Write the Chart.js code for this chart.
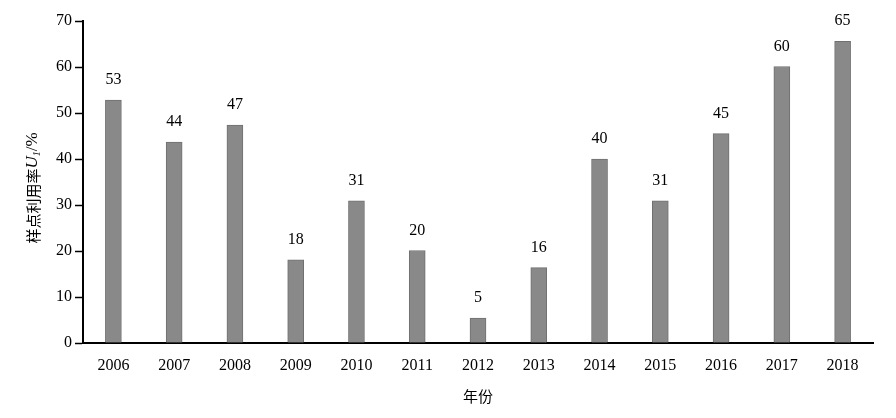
<!DOCTYPE html>
<html lang="zh">
<head>
    <meta charset="UTF-8">
    <title>样点利用率</title>
    <script src="https://cdn.jsdelivr.net/npm/chart.js"></script>
    <style>
        html, body { margin: 0; padding: 0; background: #fff; }
        #wrap { width: 896px; height: 418px; position: relative; }
    </style>
</head>
<body>
    <div id="wrap"><canvas id="rateChart"></canvas></div>
    <script>
        // data
        const years = ['2006', '2007', '2008', '2009', '2010', '2011', '2012', '2013', '2014', '2015', '2016', '2017', '2018'];
        const rates = [52.8, 43.7, 47.4, 18.1, 30.9, 20.1, 5.4, 16.4, 40.0, 30.9, 45.5, 60.1, 65.6];
        const rateLabels = ['53', '44', '47', '18', '31', '20', '5', '16', '40', '31', '45', '60', '65'];
        const yTicks = [0, 10, 20, 30, 40, 50, 60, 70];

        const serif = '"Liberation Serif", "Times New Roman", serif';

        // value labels on top of bars + axis titles
        const extrasPlugin = {
            id: 'extras',
            afterDatasetsDraw(chart) {
                const ctx = chart.ctx;
                const meta = chart.getDatasetMeta(0);
                ctx.save();
                ctx.fillStyle = '#000';
                ctx.font = '16px ' + serif;
                ctx.textAlign = 'center';
                ctx.textBaseline = 'middle';
                meta.data.forEach((bar, i) => {
                    ctx.fillText(rateLabels[i], bar.x, bar.y - 20);
                });

                // x title
                const area = chart.chartArea;
                ctx.font = '15px "Noto Sans CJK SC", sans-serif';
                ctx.fillText('年份', (area.left + area.right) / 2, 396);

                // y title, rotated, with italic U and subscript 1
                ctx.translate(33, (area.top + area.bottom) / 2 + 6);
                ctx.rotate(-Math.PI / 2);
                ctx.textAlign = 'left';
                const cjk = '15px "Noto Sans CJK SC", sans-serif';
                const parts = [
                    { t: '样点利用率', f: cjk, dy: 0 },
                    { t: 'U', f: 'italic 17px ' + serif, dy: 0 },
                    { t: '1', f: 'italic 10px ' + serif, dy: 4 },
                    { t: '/%', f: '17px ' + serif, dy: 0 }
                ];
                let total = 0;
                parts.forEach(p => { ctx.font = p.f; total += ctx.measureText(p.t).width; });
                let x = -total / 2;
                parts.forEach(p => {
                    ctx.font = p.f;
                    ctx.fillText(p.t, x, p.dy);
                    x += ctx.measureText(p.t).width;
                });
                ctx.restore();
            }
        };

        const ctx = document.getElementById('rateChart').getContext('2d');
        const rateChart = new Chart(ctx, {
            type: 'bar',
            data: {
                labels: years,
                datasets: [{
                    data: rates,
                    backgroundColor: '#898989',
                    borderColor: '#707070',
                    borderWidth: 1,
                    barThickness: 16
                }]
            },
            options: {
                responsive: true,
                maintainAspectRatio: false,
                animation: false,
                layout: { padding: { top: 21, right: 23, bottom: 0, left: 0 } },
                plugins: {
                    legend: { display: false },
                    tooltip: { enabled: false }
                },
                scales: {
                    x: {
                        grid: { display: false, drawTicks: false },
                        border: { color: '#000', width: 2 },
                        ticks: { color: '#000', font: { family: serif, size: 16 }, padding: 13, maxRotation: 0 },
                        afterFit(scale) { scale.height = 75; }
                    },
                    y: {
                        min: 0,
                        max: 70,
                        afterBuildTicks(scale) { scale.ticks = yTicks.map(v => ({ value: v })); },
                        grid: { drawOnChartArea: false, tickLength: 8, color: '#000', tickWidth: 1.5 },
                        border: { color: '#000', width: 2 },
                        ticks: { color: '#000', font: { family: serif, size: 16 }, padding: 3 },
                        afterFit(scale) { scale.width = 83; }
                    }
                }
            },
            plugins: [extrasPlugin]
        });
    </script>
</body>
</html>
